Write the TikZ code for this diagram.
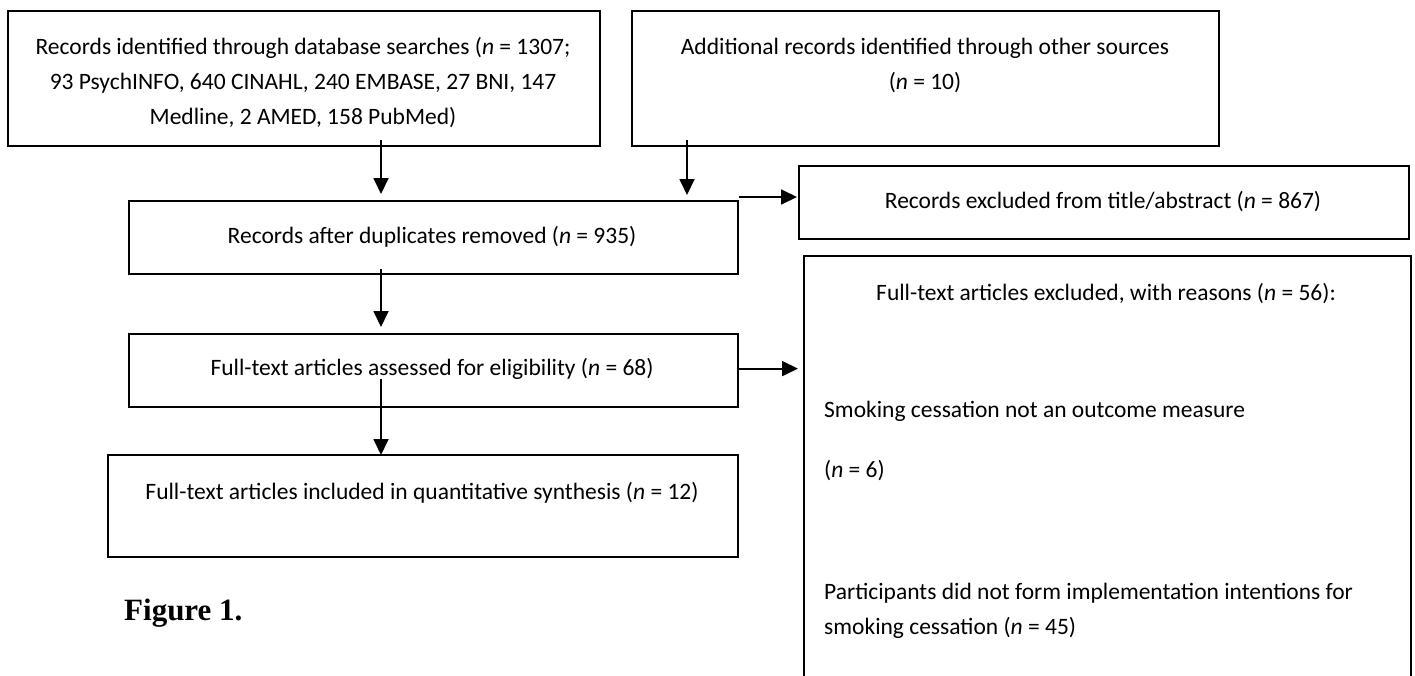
\documentclass[tikz,border=0pt]{standalone}
\usepackage{fontspec}
\setmainfont{Carlito}
\newfontfamily\figfont{Liberation Serif}
\usetikzlibrary{arrows.meta}
\begin{document}
\begin{tikzpicture}[x=1pt,y=-1pt,
  box/.style={draw, line width=2.2pt, inner sep=0pt, anchor=north west},
  txt/.style={font=\fontsize{23.5}{35}\selectfont, inner sep=0pt, align=center, anchor=base},
  ltxt/.style={font=\fontsize{23.5}{35}\selectfont, inner sep=0pt, align=left, anchor=base west},
  arr/.style={line width=1.8pt, -{Triangle[width=15pt,length=16pt]}}]
\clip (0,0) rectangle (1415,675);
\fill[white] (0,0) rectangle (1415,675);
% boxes
\node[box, minimum width=592, minimum height=135] (b1) at (7,10) {};
\node[box, minimum width=587, minimum height=135] (b2) at (631,10) {};
\node[box, minimum width=609, minimum height=73] (b3) at (128,200) {};
\node[box, minimum width=610, minimum height=73] (r1) at (798,165) {};
\node[box, minimum width=609, minimum height=73] (b4) at (128,333) {};
\node[box, minimum width=607, minimum height=450] (r2) at (803,255) {};
\node[box, minimum width=630, minimum height=102] (b5) at (107,454) {};
% texts (multi-line nodes: base = last line)
\node[txt] (t1) at (303,124) {Records identified through database searches (\textit{n} = 1307;\\ 93 PsychINFO, 640 CINAHL, 240 EMBASE, 27 BNI, 147\\ Medline, 2 AMED, 158 PubMed)};
\node[txt] (t2) at (925,89) {Additional records identified through other sources\\ (\textit{n} = 10)};
\node[txt] (t3) at (432,243) {Records after duplicates removed (\textit{n} = 935)};
\node[txt] (tr1) at (1103,208) {Records excluded from title/abstract (\textit{n} = 867)};
\node[txt] (t4) at (432,375) {Full-text articles assessed for eligibility (\textit{n} = 68)};
\node[txt] (tr2a) at (1106,300) {Full-text articles excluded, with reasons (\textit{n} = 56):};
\node[ltxt] (tr2b) at (824,417) {Smoking cessation not an outcome measure};
\node[ltxt] (tr2c) at (824,477) {(\textit{n} = 6)};
\node[ltxt] (tr2d) at (824,634) {Participants did not form implementation intentions for\\ smoking cessation (\textit{n} = 45)};
\node[txt] (t5) at (422,499) {Full-text articles included in quantitative synthesis (\textit{n} = 12)};
\node[inner sep=0pt, anchor=base west, font=\fontsize{31}{35}\figfont\bfseries] (fig) at (124,620) {Figure 1.};
% connectors
\coordinate (xa) at (381,0);
\coordinate (xb) at (687,0);
\draw[arr, shorten <=-7pt, shorten >=6pt] (b1.south -| xa) -- (b3.north -| xa);
\draw[arr, shorten <=-7pt, shorten >=5pt] (b2.south -| xb) -- (b3.north -| xb);
\draw[arr, shorten >=1pt] ([yshift=3pt]b3.north east) -- ([yshift=3pt]b3.north east -| r1.west);
\draw[arr, shorten <=-6pt, shorten >=6pt] (b3.south -| xa) -- (b4.north -| xa);
\draw[arr, shorten >=5pt] ([yshift=2pt]b4.east) -- ([yshift=2pt]b4.east -| r2.west);
\draw[arr, shorten <=-29pt, shorten >=-1pt] (b4.south -| xa) -- (b5.north -| xa);
\end{tikzpicture}
\end{document}
